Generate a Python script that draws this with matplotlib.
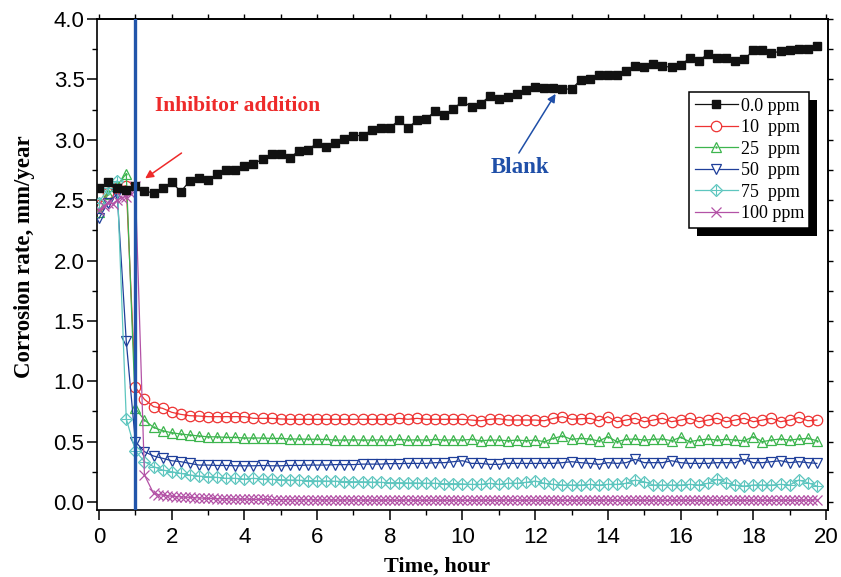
import numpy as np
import matplotlib
matplotlib.use("Agg")
import matplotlib.pyplot as plt
from matplotlib.lines import Line2D
from matplotlib.patches import Rectangle
from matplotlib.transforms import IdentityTransform
from matplotlib.ticker import MultipleLocator, FormatStrFormatter

# ---------------- data ----------------
t_main = [i * 0.25 for i in range(80)]  # hours, 0 .. 19.75

blank = [2.60, 2.65, 2.60, 2.58, 2.62, 2.575, 2.56, 2.60, 2.65, 2.57,
         2.66, 2.685, 2.665, 2.72, 2.75, 2.75, 2.785, 2.80, 2.84, 2.88,
         2.88, 2.85, 2.91, 2.915, 2.975, 2.94, 2.97, 3.01, 3.035, 3.035,
         3.08, 3.10, 3.10, 3.16, 3.10, 3.16, 3.17, 3.24, 3.205, 3.255,
         3.32, 3.27, 3.30, 3.36, 3.34, 3.35, 3.38, 3.41, 3.44, 3.425,
         3.425, 3.42, 3.42, 3.495, 3.50, 3.54, 3.54, 3.54, 3.57, 3.61,
         3.605, 3.63, 3.61, 3.60, 3.62, 3.675, 3.655, 3.71, 3.68, 3.675,
         3.655, 3.665, 3.74, 3.74, 3.715, 3.735, 3.74, 3.755, 3.755, 3.775]

ppm10 = [2.46, 2.56, 2.60, 2.62, 0.95, 0.85, 0.79, 0.776, 0.743, 0.726,
         0.715, 0.712, 0.707, 0.707, 0.707, 0.707, 0.707, 0.693, 0.693, 0.693,
         0.688, 0.685, 0.685, 0.685, 0.685, 0.685, 0.685, 0.685, 0.685, 0.685,
         0.685, 0.685, 0.685, 0.693, 0.685, 0.693, 0.685, 0.685, 0.685, 0.685,
         0.685, 0.679, 0.673, 0.685, 0.69, 0.679, 0.679, 0.679, 0.679, 0.673,
         0.693, 0.707, 0.685, 0.69, 0.693, 0.673, 0.707, 0.665, 0.679, 0.693,
         0.665, 0.679, 0.693, 0.665, 0.679, 0.693, 0.665, 0.679, 0.693, 0.665,
         0.679, 0.693, 0.665, 0.679, 0.693, 0.665, 0.679, 0.70, 0.673, 0.679]

ppm25 = [2.40, 2.55, 2.62, 2.72, 0.775, 0.679, 0.618, 0.59, 0.574, 0.563,
         0.555, 0.547, 0.54, 0.54, 0.535, 0.535, 0.53, 0.53, 0.53, 0.527,
         0.527, 0.522, 0.522, 0.52, 0.52, 0.518, 0.513, 0.513, 0.515, 0.513,
         0.513, 0.515, 0.513, 0.518, 0.513, 0.515, 0.513, 0.518, 0.513, 0.515,
         0.513, 0.519, 0.508, 0.513, 0.513, 0.508, 0.513, 0.508, 0.513, 0.50,
         0.527, 0.547, 0.519, 0.527, 0.522, 0.505, 0.541, 0.50, 0.519, 0.522,
         0.513, 0.519, 0.522, 0.508, 0.536, 0.50, 0.513, 0.522, 0.513, 0.519,
         0.513, 0.508, 0.541, 0.50, 0.513, 0.522, 0.513, 0.522, 0.527, 0.508]

ppm50 = [2.35, 2.48, 2.55, 1.33, 0.50, 0.417, 0.381, 0.362, 0.342, 0.334,
         0.32, 0.306, 0.306, 0.303, 0.303, 0.30, 0.30, 0.30, 0.303, 0.30,
         0.30, 0.303, 0.303, 0.306, 0.306, 0.306, 0.31, 0.31, 0.31, 0.314,
         0.314, 0.314, 0.318, 0.318, 0.32, 0.32, 0.32, 0.326, 0.326, 0.334,
         0.342, 0.32, 0.32, 0.312, 0.312, 0.32, 0.32, 0.32, 0.32, 0.32,
         0.32, 0.326, 0.334, 0.326, 0.32, 0.312, 0.326, 0.32, 0.326, 0.353,
         0.326, 0.326, 0.326, 0.342, 0.326, 0.32, 0.32, 0.32, 0.326, 0.326,
         0.326, 0.353, 0.326, 0.326, 0.334, 0.342, 0.326, 0.334, 0.326, 0.32]

ppm75 = [2.48, 2.60, 2.66, 0.69, 0.425, 0.334, 0.293, 0.265, 0.251, 0.237,
         0.224, 0.215, 0.21, 0.204, 0.196, 0.196, 0.19, 0.196, 0.19, 0.188,
         0.185, 0.182, 0.18, 0.178, 0.175, 0.174, 0.172, 0.17, 0.168, 0.168,
         0.165, 0.163, 0.16, 0.16, 0.158, 0.158, 0.155, 0.155, 0.152, 0.152,
         0.15, 0.146, 0.146, 0.155, 0.146, 0.155, 0.155, 0.163, 0.174, 0.155,
         0.146, 0.141, 0.141, 0.141, 0.146, 0.141, 0.146, 0.146, 0.155, 0.182,
         0.168, 0.141, 0.141, 0.141, 0.141, 0.146, 0.141, 0.155, 0.188, 0.16,
         0.141, 0.132, 0.141, 0.141, 0.141, 0.146, 0.141, 0.182, 0.16, 0.132]

t_100 = [0.0, 0.125, 0.25, 0.375, 0.5, 0.625, 0.75, 0.875, 1.0, 1.25] + \
        [1.5 + i * 0.125 for i in range(147)]
ppm100 = ([2.42, 2.45, 2.48, 2.47, 2.50, 2.52, 2.53, 2.55, 2.62, 0.224] +
          [0.072, 0.062, 0.058, 0.052, 0.048, 0.045, 0.042, 0.040, 0.039, 0.036,
           0.034, 0.032, 0.030, 0.030, 0.028, 0.027, 0.026, 0.025, 0.025, 0.024,
           0.024, 0.023, 0.022, 0.022, 0.021, 0.021, 0.020, 0.020, 0.020, 0.019,
           0.019, 0.019, 0.018, 0.018, 0.018, 0.018, 0.017, 0.017, 0.017, 0.017,
           0.016, 0.016, 0.016, 0.017, 0.016, 0.016, 0.015, 0.016, 0.015, 0.016,
           0.015, 0.015, 0.016, 0.015, 0.014, 0.015, 0.016, 0.015, 0.014, 0.015,
           0.014, 0.015, 0.016, 0.014, 0.015, 0.014, 0.015, 0.016, 0.015, 0.014,
           0.015, 0.014, 0.016, 0.015, 0.014, 0.015, 0.014, 0.015, 0.016, 0.015,
           0.014, 0.015, 0.014, 0.016, 0.015, 0.014, 0.015, 0.014, 0.015, 0.016,
           0.015, 0.014, 0.015, 0.014, 0.016, 0.015, 0.014, 0.015, 0.014, 0.015,
           0.016, 0.015, 0.014, 0.015, 0.014, 0.016, 0.015, 0.014, 0.015, 0.014,
           0.015, 0.016, 0.015, 0.014, 0.015, 0.014, 0.016, 0.015, 0.014, 0.015,
           0.014, 0.015, 0.016, 0.015, 0.014, 0.015, 0.014, 0.016, 0.015, 0.014,
           0.015, 0.014, 0.015, 0.016, 0.015, 0.014, 0.015, 0.014, 0.016, 0.015,
           0.014, 0.015, 0.014, 0.015, 0.016, 0.015, 0.02])

labels = ["0.0 ppm", "10  ppm", "25  ppm", "50  ppm", "75  ppm", "100 ppm"]
inhibitor_time = 1.0

# ---------------- style ----------------
c_blank = "#111111"
c_red = "#ee3333"
c_green = "#3db54e"
c_blue = "#1f3f9a"
c_cyan = "#5ec6bf"
c_purple = "#b352a6"
c_vline = "#2255aa"

serif = ["Liberation Serif", "DejaVu Serif"]
tickfont = ["Liberation Sans", "DejaVu Sans"]

fig = plt.figure(figsize=(8.41, 5.77), dpi=100)
W, H = 841, 577
ax = fig.add_axes([97 / W, 1 - 510 / H, (828 - 97) / W, (510 - 19) / H])

lw = 0.9
ax.plot(t_main, ppm10, color=c_red, lw=lw, marker="o", ms=7.5, mfc="none",
        mec=c_red, mew=0.9, zorder=3)
ax.plot(t_main, ppm25, color=c_green, lw=lw, marker="^", ms=7.5, mfc="none",
        mec=c_green, mew=0.9, zorder=3)
ax.plot(t_main, ppm25, ls="none", marker=".", ms=1.5, color=c_green, zorder=3)
ax.plot(t_main, ppm50, color=c_blue, lw=lw, marker="v", ms=7.5, mfc="none",
        mec=c_blue, mew=0.9, zorder=3)
ax.plot(t_main, ppm75, color=c_cyan, lw=lw, marker="D", ms=6.3, mfc="none",
        mec=c_cyan, mew=0.9, zorder=3)
ax.plot(t_main, ppm75, ls="none", marker="+", ms=6.5, mec=c_cyan, mew=0.8, zorder=3)
ax.plot(t_100, ppm100, color=c_purple, lw=lw, marker="x", ms=6.5,
        mec=c_purple, mew=0.9, zorder=3)
ax.plot(t_main, blank, color=c_blank, lw=lw, marker="s", ms=6.0,
        mfc=c_blank, mec=c_blank, zorder=4)

ax.axvline(inhibitor_time, color=c_vline, lw=2.4, zorder=5)

ax.set_xlim(-0.055, 20.055)
ax.set_ylim(-0.066, 4.0)

ax.xaxis.set_major_locator(MultipleLocator(2))
ax.xaxis.set_minor_locator(MultipleLocator(1))
ax.yaxis.set_major_locator(MultipleLocator(0.5))
ax.yaxis.set_minor_locator(MultipleLocator(0.25))
ax.yaxis.set_major_formatter(FormatStrFormatter("%.1f"))

ax.tick_params(which="major", direction="out", length=7, width=1.1,
               labelsize=16)
ax.tick_params(axis="x", which="major", pad=5)
ax.tick_params(axis="y", which="major", pad=2)
ax.tick_params(which="minor", direction="out", length=3.6, width=1.0)
for lab in ax.get_xticklabels() + ax.get_yticklabels():
    lab.set_family(tickfont)

for sp in ax.spines.values():
    sp.set_linewidth(1.2)

sx = ax.secondary_xaxis("top")
sx.xaxis.set_major_locator(MultipleLocator(1))
sx.tick_params(direction="out", length=3.5, width=1.0, labeltop=False)
sx.spines["top"].set_linewidth(1.2)
sy = ax.secondary_yaxis("right")
sy.yaxis.set_major_locator(MultipleLocator(0.25))
sy.tick_params(direction="out", length=3.5, width=1.0, labelright=False)
sy.spines["right"].set_linewidth(1.2)

ax.set_xlabel("Time, hour", family=serif, fontweight="bold", fontsize=16)
ax.set_ylabel("Corrosion rate, mm/year", family=serif, fontweight="bold",
              fontsize=16.5)
ax.xaxis.set_label_coords(0.465, -0.094)
ax.yaxis.set_label_coords(-0.0845, 0.515)

# annotations
ax.annotate("", xy=(1.27, 2.68), xytext=(2.27, 2.89),
            arrowprops=dict(arrowstyle="-|>", color="#ee2a2a", lw=1.1,
                            mutation_scale=12, shrinkA=0, shrinkB=0), zorder=6)
ax.text(3.82, 3.28, "Inhibitor addition", color="#ee2a2a", family=serif,
        fontweight="bold", fontsize=15.5, ha="center", va="center")
ax.annotate("", xy=(12.56, 3.38), xytext=(11.55, 2.89),
            arrowprops=dict(arrowstyle="-|>", color="#1f4fa8", lw=1.1,
                            mutation_scale=12, shrinkA=0, shrinkB=0), zorder=6)
ax.text(11.58, 2.77, "Blank", color="#1f4fa8", family=serif,
        fontweight="bold", fontsize=16.5, ha="center", va="center")

# legend
h_blank = Line2D([], [], color=c_blank, lw=lw, marker="s", ms=6.0, mfc=c_blank, mec=c_blank)
h_red = Line2D([], [], color=c_red, lw=lw, marker="o", ms=7.5, mfc="white", mec=c_red, mew=0.9)
h_green = Line2D([], [], color=c_green, lw=lw, marker="^", ms=7.5, mfc="white", mec=c_green, mew=0.9)
h_green_d = Line2D([], [], ls="none", marker=".", ms=1.5, color=c_green)
h_blue = Line2D([], [], color=c_blue, lw=lw, marker="v", ms=7.5, mfc="white", mec=c_blue, mew=0.9)
h_cyan = Line2D([], [], color=c_cyan, lw=lw, marker="D", ms=6.3, mfc="white", mec=c_cyan, mew=0.9)
h_cyan_p = Line2D([], [], ls="none", marker="+", ms=6.5, mec=c_cyan, mew=0.8)
h_purple = Line2D([], [], color=c_purple, lw=lw, marker="x", ms=6.5, mec=c_purple, mew=0.9)

leg = ax.legend([h_blank, h_red, (h_green, h_green_d), h_blue, (h_cyan, h_cyan_p), h_purple],
                labels, loc="upper left", bbox_to_anchor=(0.81, 0.851),
                borderaxespad=0, frameon=True, fancybox=False, framealpha=1,
                edgecolor="black", prop={"family": serif, "size": 13},
                handlelength=2.4, handletextpad=0.15, labelspacing=0.25,
                borderpad=0.3, numpoints=1)
leg.get_frame().set_linewidth(1.1)
leg.set_zorder(8)

fig.canvas.draw()
bb = leg.get_window_extent()
shadow = Rectangle((bb.x0 + 8, bb.y0 - 8), bb.width, bb.height,
                   transform=IdentityTransform(), facecolor="black",
                   edgecolor="none", zorder=7, clip_on=False)
ax.add_artist(shadow)

fig.savefig("out.png", dpi=100)
